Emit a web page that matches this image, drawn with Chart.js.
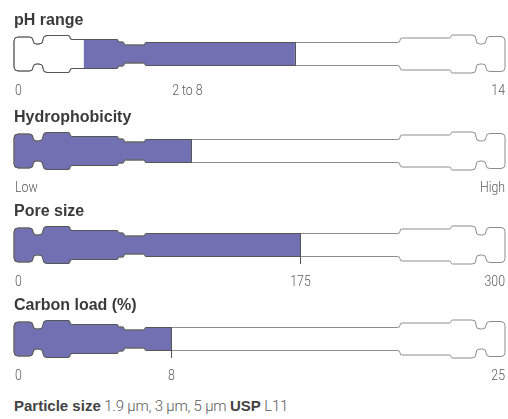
<!DOCTYPE html>
<html>
<head>
<meta charset="utf-8">
<script src="https://cdn.jsdelivr.net/npm/chart.js@4"></script>
<style>
  html, body { margin: 0; padding: 0; background: #fff; }
  #wrap { position: relative; width: 508px; height: 419px; overflow: hidden; }
  .row { position: absolute; left: 0; width: 508px; height: 100px; }
  #foot {
    position: absolute; left: 14px; top: 397px;
    font: 300 15px Roboto, "Liberation Sans", sans-serif; color: #5a5a5a;
    letter-spacing: -0.2px;
  }
  #foot b { font: bold 15px "Liberation Sans", Arial, sans-serif; color: #444; letter-spacing: 0; }
</style>
</head>
<body>
<div id="wrap">
  <div class="row" style="top:0px"><canvas id="row0" width="508" height="100"></canvas></div>
  <div class="row" style="top:96.5px"><canvas id="row1" width="508" height="100"></canvas></div>
  <div class="row" style="top:191px"><canvas id="row2" width="508" height="100"></canvas></div>
  <div class="row" style="top:284.5px"><canvas id="row3" width="508" height="100"></canvas></div>
  <div id="foot"><b>Particle size</b> 1.9 µm, 3 µm, 5 µm <b>USP</b> L11</div>
</div>
<script>
/* column-style range bars */
const rowTitles = ['pH range', 'Hydrophobicity', 'Pore size', 'Carbon load (%)'];
const scaleMin = [0, 0, 0, 0];
const scaleMax = [14, 100, 300, 25];
const fillStart = [2, 0, 0, 0];
const fillEnd = [8, 36, 175, 8];
const leftLabels = ['0', 'Low', '0', '0'];
const rightLabels = ['14', 'High', '300', '25'];
const markLabels = ['2 to 8', '', '175', '8'];

const PURPLE = '#7070b3';
const LINE_LIGHT = '#8c8c8c';
const LINE_DARK = '#555';
const LABEL_FONT = '300 15px Roboto, sans-serif';
const SQUEEZE = 0.82;

// outline of the column: [from, to, half height] in px of a 491 wide area
const SEGS = [
  [0, 19, 17], [19, 29, 10], [29, 56, 18.5], [56, 104, 14.5], [104, 110, 12],
  [110, 131, 9], [131, 386, 11.5], [386, 437, 16], [437, 462, 19],
  [462, 472, 10], [472, 491, 17.5],
];

function columnPoints(a) {
  const k = (a.right - a.left) / 491;
  const c = Math.round((a.top + a.bottom) / 2);
  const top = [], bot = [];
  SEGS.forEach(([x0, x1, h]) => {
    top.push([a.left + x0 * k, c - h], [a.left + x1 * k, c - h]);
    bot.push([a.left + x0 * k, c + h], [a.left + x1 * k, c + h]);
  });
  return top.concat(bot.reverse());
}

function columnPath(ctx, a) {
  const pts = columnPoints(a);
  const n = pts.length;
  const r = 4;
  ctx.beginPath();
  const mid = (p, q) => [(p[0] + q[0]) / 2, (p[1] + q[1]) / 2];
  const start = mid(pts[n - 1], pts[0]);
  ctx.moveTo(start[0], start[1]);
  for (let i = 0; i < n; i++) {
    const p = pts[i], q = pts[(i + 1) % n], prev = pts[(i - 1 + n) % n];
    const l1 = Math.hypot(p[0] - prev[0], p[1] - prev[1]);
    const l2 = Math.hypot(q[0] - p[0], q[1] - p[1]);
    const rr = Math.min(r, l1 / 2, l2 / 2);
    if (rr < 0.3) ctx.lineTo(p[0], p[1]);
    else ctx.arcTo(p[0], p[1], q[0], q[1], rr);
  }
  ctx.closePath();
}

function squeezedText(ctx, txt, x, y, align) {
  const w = ctx.measureText(txt).width * SQUEEZE;
  let x0 = x;
  if (align === 'center') x0 = x - w / 2;
  if (align === 'right') x0 = x - w;
  ctx.save();
  ctx.translate(x0, y);
  ctx.scale(SQUEEZE, 1);
  ctx.textAlign = 'left';
  ctx.fillText(txt, 0, 0);
  ctx.restore();
}

const columnPlugin = {
  id: 'column',
  beforeDatasetsDraw(chart) {
    const ctx = chart.ctx;
    ctx.save();
    columnPath(ctx, chart.chartArea);
    ctx.clip();
  },
  afterDatasetsDraw(chart, args, opts) {
    const ctx = chart.ctx;
    ctx.restore();
    const a = chart.chartArea;
    const xs = chart.scales.x;
    const i = opts.row;
    const xe = Math.round(xs.getPixelForValue(fillEnd[i])) + 0.5;
    const c = Math.round((a.top + a.bottom) / 2);

    // outline, lighter on the empty part
    ctx.save();
    ctx.lineWidth = 1;
    ctx.strokeStyle = LINE_LIGHT;
    columnPath(ctx, a);
    ctx.stroke();
    ctx.beginPath();
    ctx.rect(0, 0, xe, chart.height);
    ctx.clip();
    ctx.strokeStyle = LINE_DARK;
    columnPath(ctx, a);
    ctx.stroke();
    ctx.restore();

    // end of fill
    ctx.save();
    columnPath(ctx, a);
    ctx.clip();
    ctx.strokeStyle = LINE_DARK;
    ctx.beginPath();
    ctx.moveTo(xe, a.top);
    ctx.lineTo(xe, a.bottom);
    ctx.stroke();
    ctx.restore();

    // texts
    ctx.save();
    ctx.fillStyle = '#3a3a3a';
    ctx.font = 'bold 16px "Liberation Sans", Arial, sans-serif';
    ctx.textAlign = 'left';
    ctx.textBaseline = 'alphabetic';
    ctx.fillText(rowTitles[i], a.left, 25);

    const yl = c + 40.5;
    ctx.fillStyle = '#5a5a5a';
    ctx.font = LABEL_FONT;
    squeezedText(ctx, leftLabels[i], a.left + 1, yl, 'left');
    squeezedText(ctx, rightLabels[i], a.right, yl, 'right');

    if (markLabels[i]) {
      if (fillStart[i] > scaleMin[i]) {
        const xm = xs.getPixelForValue((fillStart[i] + fillEnd[i]) / 2);
        squeezedText(ctx, markLabels[i], xm - 2, yl, 'center');
      } else {
        ctx.strokeStyle = LINE_DARK;
        ctx.lineWidth = 1;
        ctx.beginPath();
        ctx.moveTo(xe, c + 11);
        ctx.lineTo(xe, c + 19);
        ctx.stroke();
        squeezedText(ctx, markLabels[i], xe, yl, 'center');
      }
    }
    ctx.restore();
  },
};

function makeRow(i) {
  const el = document.getElementById('row' + i);
  return new Chart(el.getContext('2d'), {
    type: 'bar',
    data: {
      labels: [rowTitles[i]],
      datasets: [{
        data: [[fillStart[i], fillEnd[i]]],
        backgroundColor: PURPLE,
        borderWidth: 0,
        barPercentage: 1,
        categoryPercentage: 1,
      }],
    },
    options: {
      indexAxis: 'y',
      responsive: false,
      animation: false,
      layout: { padding: { left: 14, right: 3, top: 34.5, bottom: 27.5 } },
      plugins: {
        legend: { display: false },
        tooltip: { enabled: false },
        column: { row: i },
      },
      scales: {
        x: { type: 'linear', min: scaleMin[i], max: scaleMax[i], display: false },
        y: { display: false },
      },
    },
    plugins: [columnPlugin],
  });
}

rowTitles.forEach((t, i) => makeRow(i));
</script>
</body>
</html>
